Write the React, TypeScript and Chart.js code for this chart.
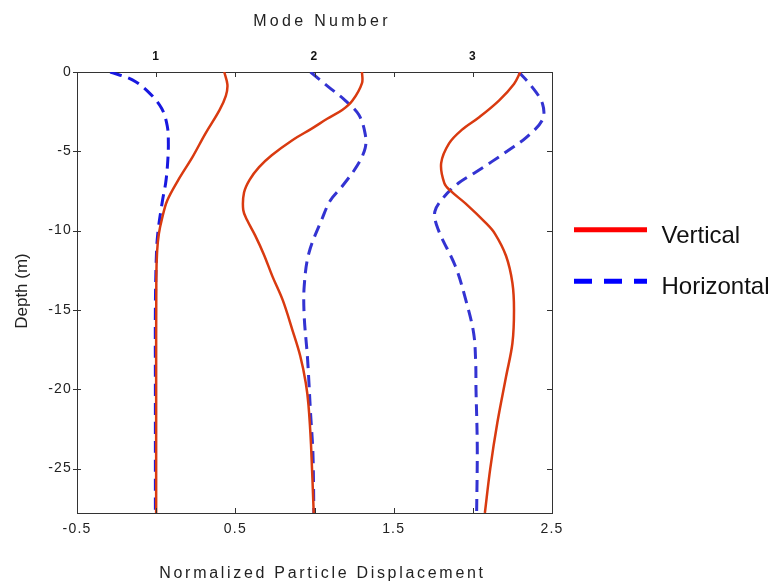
import React, { useEffect, useRef } from 'react';
import { Chart, registerables } from 'chart.js';

Chart.register(...registerables);

// ---- Labels / ticks ----
const topTitle = 'Mode Number';
const xTitle = 'Normalized Particle Displacement';
const yTitle = 'Depth (m)';
const seriesNames = ['Vertical', 'Horizontal'];
const modeLabels = ['1', '2', '3'];
const modePositions = [0, 1, 2];
const xTickValues = [-0.5, 0, 0.5, 1, 1.5, 2, 2.5];
const xLabelValues = [-0.5, 0.5, 1.5, 2.5];
const depthTicks = [0, -5, -10, -15, -20, -25];

// ---- Mode 1 ----
const mode1VerticalX = [0.43, 0.45, 0.44, 0.4, 0.31, 0.23, 0.14, 0.07, 0.038, 0.017, 0.006, 0.001, 0.0, 0.0];
const mode1VerticalDepth = [0, -0.8, -1.5, -2.4, -3.9, -5.35, -6.8, -8.1, -9.2, -10.2, -11.3, -13, -20, -27.8];
const mode1HorizontalX = [-0.29, -0.15, -0.05, 0.035, 0.07, 0.077, 0.072, 0.06, 0.04, 0.01, 0.0, -0.005, -0.005, -0.005];
const mode1HorizontalDepth = [0, -0.5, -1.25, -2.3, -3.4, -4.5, -5.8, -7.0, -8.1, -10.2, -12, -15, -20, -27.8];

// ---- Mode 2 ----
const mode2VerticalX = [1.3, 1.3, 1.24, 1.175, 1.08, 0.985, 0.86, 0.73, 0.65, 0.59, 0.555, 0.55, 0.575, 0.625, 0.68, 0.735, 0.8, 0.86, 0.91, 0.945, 0.962, 0.978, 0.995];
const mode2VerticalDepth = [0, -0.7, -1.8, -2.4, -2.95, -3.55, -4.3, -5.25, -6.0, -6.8, -7.6, -8.7, -9.35, -10.3, -11.5, -12.9, -14.4, -16.25, -17.9, -19.6, -21, -23.5, -27.8];
const mode2HorizontalX = [0.975, 1.09, 1.195, 1.28, 1.32, 1.32, 1.27, 1.175, 1.1, 1.05, 0.965, 0.935, 0.935, 0.955, 0.965, 0.975, 0.99, 0.996];
const mode2HorizontalDepth = [0, -0.95, -1.8, -2.7, -3.9, -4.8, -5.9, -7.2, -8.1, -9.2, -11.4, -13.5, -15.4, -17.9, -19.6, -21.5, -24, -27.8];

// ---- Mode 3 ----
const mode3VerticalX = [2.3, 2.26, 2.165, 2.04, 1.93, 1.85, 1.8, 1.82, 1.86, 1.955, 2.08, 2.14, 2.21, 2.25, 2.26, 2.25, 2.21, 2.155, 2.11, 2.076];
const mode3VerticalDepth = [0, -0.75, -1.8, -2.85, -3.65, -4.5, -5.75, -7.0, -7.5, -8.3, -9.5, -10.2, -11.6, -13.3, -15.0, -17.1, -19.2, -22.1, -25.0, -27.8];
const mode3HorizontalX = [2.29, 2.375, 2.44, 2.44, 2.34, 2.23, 2.12, 2.02, 1.91, 1.82, 1.76, 1.78, 1.89, 1.955, 2.005, 2.018, 2.02, 2.028, 2.024];
const mode3HorizontalDepth = [0, -0.95, -2.0, -3.0, -4.1, -4.9, -5.65, -6.3, -7.0, -7.85, -8.8, -9.9, -12.25, -14.35, -16.45, -18.3, -20, -23.6, -27.8];

const FONT = '"Liberation Sans", Arial, sans-serif';
const RED = '#d93a10';
const BLUE = '#3333d2';
const LEGEND_RED = '#ff0000';
const LEGEND_BLUE = '#0000ff';

const pts = (xs: number[], ds: number[]) => xs.map((x, i) => ({ x, y: ds[i] }));

const decorPlugin = {
  id: 'decor',
  beforeDraw(chart: any) {
    chart.ctx.letterSpacing = '1.2px';
  },
  afterDraw(chart: any) {
    const { ctx, chartArea: a, scales } = chart;
    ctx.save();
    ctx.letterSpacing = '0px';
    ctx.strokeStyle = '#333';
    ctx.lineWidth = 1;
    const line = (x1: number, y1: number, x2: number, y2: number) => {
      ctx.beginPath();
      ctx.moveTo(x1, y1);
      ctx.lineTo(x2, y2);
      ctx.stroke();
    };
    xTickValues.forEach((v) => {
      const px = Math.round(scales.x.getPixelForValue(v)) + 0.5;
      line(px, a.bottom, px, a.bottom - 5);
      line(px, a.top, px, a.top + 5);
    });
    depthTicks.forEach((v) => {
      const py = Math.round(scales.y.getPixelForValue(v)) + 0.5;
      line(a.left - 4, py, a.left + 4, py);
      line(a.right, py, a.right - 5, py);
    });

    // Axis titles
    ctx.fillStyle = '#222';
    ctx.textAlign = 'center';
    ctx.textBaseline = 'alphabetic';
    const cx = (a.left + a.right) / 2;
    ctx.font = `16px ${FONT}`;
    ctx.letterSpacing = '3.3px';
    ctx.fillText(topTitle, cx + 7.5, 25.7);
    ctx.letterSpacing = '2.7px';
    ctx.fillText(xTitle, cx + 8, 578.3);
    ctx.letterSpacing = '0px';
    ctx.save();
    ctx.translate(27.3, (a.top + a.bottom) / 2 - 1.5);
    ctx.rotate(-Math.PI / 2);
    ctx.font = `17px ${FONT}`;
    ctx.fillText(yTitle, 0, 0);
    ctx.restore();

    // Legend
    const lx1 = a.right + 22;
    const lx2 = a.right + 95;
    const items = [
      { name: seriesNames[0], color: LEGEND_RED, dash: [] as number[], y: 229.7 },
      { name: seriesNames[1], color: LEGEND_BLUE, dash: [18, 12], y: 281.3 },
    ];
    items.forEach((it) => {
      ctx.save();
      ctx.strokeStyle = it.color;
      ctx.lineWidth = 5;
      ctx.setLineDash(it.dash);
      ctx.lineCap = 'butt';
      line(lx1, it.y, lx2, it.y);
      ctx.restore();
      ctx.fillStyle = '#111';
      ctx.font = `24px ${FONT}`;
      ctx.textAlign = 'left';
      ctx.fillText(it.name, a.right + 109.5, it.y + 12.8);
    });
    ctx.restore();
  },
};

export default function App() {
  const ref = useRef<HTMLCanvasElement | null>(null);

  useEffect(() => {
    if (!ref.current) return;
    const mk = (label: string, data: any[], color: string, dashed: boolean) => ({
      label,
      data,
      showLine: true,
      borderColor: color,
      backgroundColor: color,
      borderWidth: dashed ? 3 : 2.5,
      borderDash: dashed ? [12, 7] : [],
      pointRadius: 0,
      tension: 0.35,
      fill: false,
    });
    const noGrid = { display: false, drawTicks: false, tickLength: 0 };
    const chart = new Chart(ref.current, {
      type: 'scatter',
      data: {
        datasets: [
          mk(seriesNames[0], pts(mode1VerticalX, mode1VerticalDepth), RED, false),
          mk(seriesNames[1], pts(mode1HorizontalX, mode1HorizontalDepth), '#1818e0', true),
          mk(seriesNames[0], pts(mode2VerticalX, mode2VerticalDepth), RED, false),
          mk(seriesNames[1], pts(mode2HorizontalX, mode2HorizontalDepth), BLUE, true),
          mk(seriesNames[0], pts(mode3VerticalX, mode3VerticalDepth), RED, false),
          mk(seriesNames[1], pts(mode3HorizontalX, mode3HorizontalDepth), BLUE, true),
        ],
      },
      options: {
        responsive: false,
        animation: false,
        layout: { padding: { left: 0, top: 0, right: 224, bottom: 0 } },
        plugins: { legend: { display: false }, tooltip: { enabled: false } },
        scales: {
          x: {
            type: 'linear',
            position: 'bottom',
            min: -0.5,
            max: 2.5,
            afterBuildTicks: (s: any) => {
              s.ticks = xTickValues.map((v) => ({ value: v }));
            },
            afterFit: (s: any) => {
              s.height = 70;
            },
            ticks: {
              autoSkip: false,
              maxRotation: 0,
              padding: 8,
              color: '#222',
              font: { family: FONT, size: 14 },
              callback: (v: any) => (xLabelValues.includes(Number(v)) ? String(v) : ''),
            },
            grid: noGrid,
            border: { display: true, color: '#333', width: 1 },
          },
          x2: {
            type: 'linear',
            position: 'top',
            min: -0.5,
            max: 2.5,
            afterBuildTicks: (s: any) => {
              s.ticks = modePositions.map((v) => ({ value: v }));
            },
            afterFit: (s: any) => {
              s.height = 72;
            },
            ticks: {
              autoSkip: false,
              maxRotation: 0,
              padding: 8.5,
              color: '#111',
              font: { family: FONT, size: 12, weight: 'bold' },
              callback: (v: any) => modeLabels[modePositions.indexOf(Number(v))] ?? '',
            },
            grid: noGrid,
            border: { display: true, color: '#333', width: 1 },
          },
          y: {
            type: 'linear',
            position: 'left',
            min: -27.8,
            max: 0,
            afterBuildTicks: (s: any) => {
              s.ticks = depthTicks.map((v) => ({ value: v }));
            },
            afterFit: (s: any) => {
              s.width = 77;
            },
            ticks: {
              padding: 5,
              color: '#222',
              font: { family: FONT, size: 14 },
              callback: (v: any) => String(v),
            },
            grid: noGrid,
            border: { display: true, color: '#333', width: 1 },
          },
          y2: {
            type: 'linear',
            position: 'right',
            min: -27.8,
            max: 0,
            afterFit: (s: any) => {
              s.width = 0;
            },
            ticks: { display: false },
            grid: noGrid,
            border: { display: true, color: '#333', width: 1 },
          },
        },
      },
      plugins: [decorPlugin],
    } as any);
    return () => chart.destroy();
  }, []);

  return (
    <div style={{ position: 'fixed', left: 0, top: 0, width: 776, height: 583, background: '#fff' }}>
      <canvas ref={ref} width={776} height={583} style={{ width: 776, height: 583, display: 'block' }} />
    </div>
  );
}
